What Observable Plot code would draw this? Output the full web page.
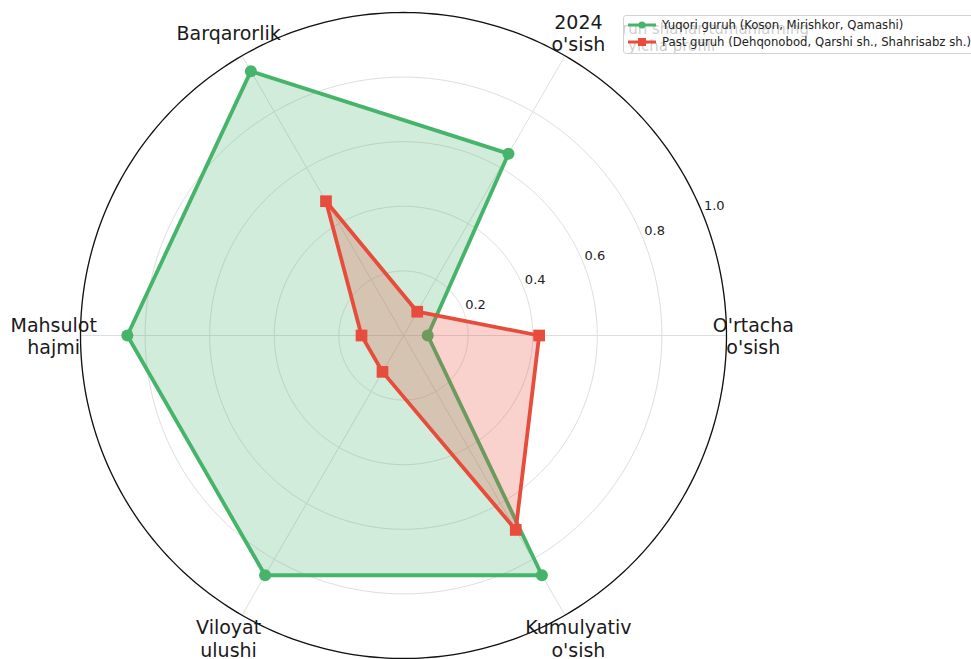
<!DOCTYPE html>
<html>
<head>
<meta charset="utf-8">
<script src="https://cdn.jsdelivr.net/npm/d3@7"></script>
<script src="https://cdn.jsdelivr.net/npm/@observablehq/plot@0.6"></script>
<style>
  body { margin: 0; background: #fff; font-family: "DejaVu Sans", sans-serif; }
  #wrap { position: relative; width: 971px; height: 659px; overflow: hidden; }
  #ghost { position: absolute; left: 623px; top: 15px; width: 360px; height: 39px; overflow: hidden; }
  #ghost div { position: absolute; font-size: 15px; color: #000; white-space: nowrap; }
  #legend { position: absolute; left: 623px; top: 15px; width: 370px; height: 37px;
            border: 1px solid #d2d2d2; border-radius: 3px; background: rgba(255,255,255,0.8);
            font-size: 11.7px; color: #222; }
  .row { position: absolute; left: 4px; height: 16px; display: flex; align-items: center; white-space: nowrap; }
  .row svg { margin-right: 6px; }
</style>
</head>
<body>
<div id="wrap">
  <div id="chart"></div>
  <div id="ghost"></div>
  <div id="legend"></div>
</div>
<script>
// ---- data ----
const categories = ["O'rtacha\no'sish", "2024\no'sish", "Barqarorlik", "Mahsulot\nhajmi", "Viloyat\nulushi", "Kumulyativ\no'sish"];
const anglesDeg = [0, 60, 120, 180, 240, 300];
const yuqoriValues = [0.075, 0.65, 0.945, 0.855, 0.857, 0.857];
const pastValues = [0.42, 0.085, 0.48, 0.13, 0.13, 0.695];
const seriesNames = ["Yuqori guruh (Koson, Mirishkor, Qamashi)", "Past guruh (Dehqonobod, Qarshi sh., Shahrisabz sh.)"];
const rTicks = [0.2, 0.4, 0.6, 0.8, 1.0];
const rLabelAngle = 22.5;
const ghostTitle = ["ruh shahar/tumanlarning", "yicha profili"];

const GREEN = "#46b46a";
const RED = "#e74c3c";

const rad = d => d * Math.PI / 180;
const X = d => d.v * Math.cos(rad(d.a));
const Y = d => d.v * Math.sin(rad(d.a));
const toPts = vals => vals.map((v, i) => ({v, a: anglesDeg[i], cat: categories[i]}));
const greenPts = toPts(yuqoriValues);
const redPts = toPts(pastValues);
const ring = r => d3.range(0, 361, 1).map(a => ({v: r, a, r}));
const gridRings = rTicks.flatMap(ring);
const spine = ring(1.0);

const chart = Plot.plot({
  width: 971,
  height: 659,
  marginLeft: 80,
  marginRight: 245,
  marginTop: 12,
  marginBottom: 1,
  x: {domain: [-1, 1], axis: null},
  y: {domain: [-1, 1], axis: null},
  style: {fontFamily: "DejaVu Sans, sans-serif", background: "transparent", overflow: "visible"},
  marks: [
    Plot.line(gridRings, {x: X, y: Y, z: "r", stroke: "#dedede", strokeWidth: 1}),
    Plot.link(anglesDeg, {x1: 0, y1: 0, x2: a => Math.cos(rad(a)), y2: a => Math.sin(rad(a)), stroke: "#dedede", strokeWidth: 1}),
    // green series
    Plot.line(greenPts, {x: X, y: Y, curve: "linear-closed", stroke: GREEN, strokeWidth: 3.8}),
    Plot.dot(greenPts, {x: X, y: Y, r: 6, fill: GREEN, symbol: "circle"}),
    Plot.line(greenPts, {x: X, y: Y, curve: "linear-closed", stroke: "none", fill: GREEN, fillOpacity: 0.25}),
    // red series
    Plot.line(redPts, {x: X, y: Y, curve: "linear-closed", stroke: RED, strokeWidth: 3.8}),
    Plot.dot(redPts, {x: X, y: Y, r: 6.6, fill: RED, symbol: "square"}),
    Plot.line(redPts, {x: X, y: Y, curve: "linear-closed", stroke: "none", fill: RED, fillOpacity: 0.25}),
    // outer spine
    Plot.line(spine, {x: X, y: Y, stroke: "#111", strokeWidth: 1.3}),
    // radial tick labels
    Plot.text(rTicks, {x: r => r * Math.cos(rad(rLabelAngle)), y: r => r * Math.sin(rad(rLabelAngle)),
      text: r => r.toFixed(1), textAnchor: "start", dx: 2, dy: -6, fontSize: 13, fill: "#222"}),
    // category labels
    Plot.text(greenPts, {x: d => 1.083 * Math.cos(rad(d.a)), y: d => 1.083 * Math.sin(rad(d.a)),
      text: "cat", fontSize: 19, lineHeight: 1.16, fill: "#1a1a1a"})
  ]
});
document.getElementById("chart").appendChild(chart);

// faint title remnants under the legend
const ghost = document.getElementById("ghost");
ghostTitle.forEach((t, i) => {
  const d = document.createElement("div");
  d.textContent = t;
  d.style.left = (i === 0 ? -1 : 5) + "px";
  d.style.top = (i === 0 ? 5 : 22) + "px";
  ghost.appendChild(d);
});

// legend
const legend = document.getElementById("legend");
[[seriesNames[0], GREEN, "circle"], [seriesNames[1], RED, "square"]].forEach(([name, color, sym], i) => {
  const row = document.createElement("div");
  row.className = "row";
  row.style.top = (i === 0 ? 1 : 18) + "px";
  const marker = sym === "circle"
    ? `<circle cx="14" cy="8" r="3.5" fill="${color}"/>`
    : `<rect x="10" y="4" width="8" height="8" fill="${color}"/>`;
  row.innerHTML = `<svg width="28" height="16"><line x1="0" y1="8" x2="28" y2="8" stroke="${color}" stroke-width="3"/>${marker}</svg><span>${name}</span>`;
  legend.appendChild(row);
});
</script>
</body>
</html>
